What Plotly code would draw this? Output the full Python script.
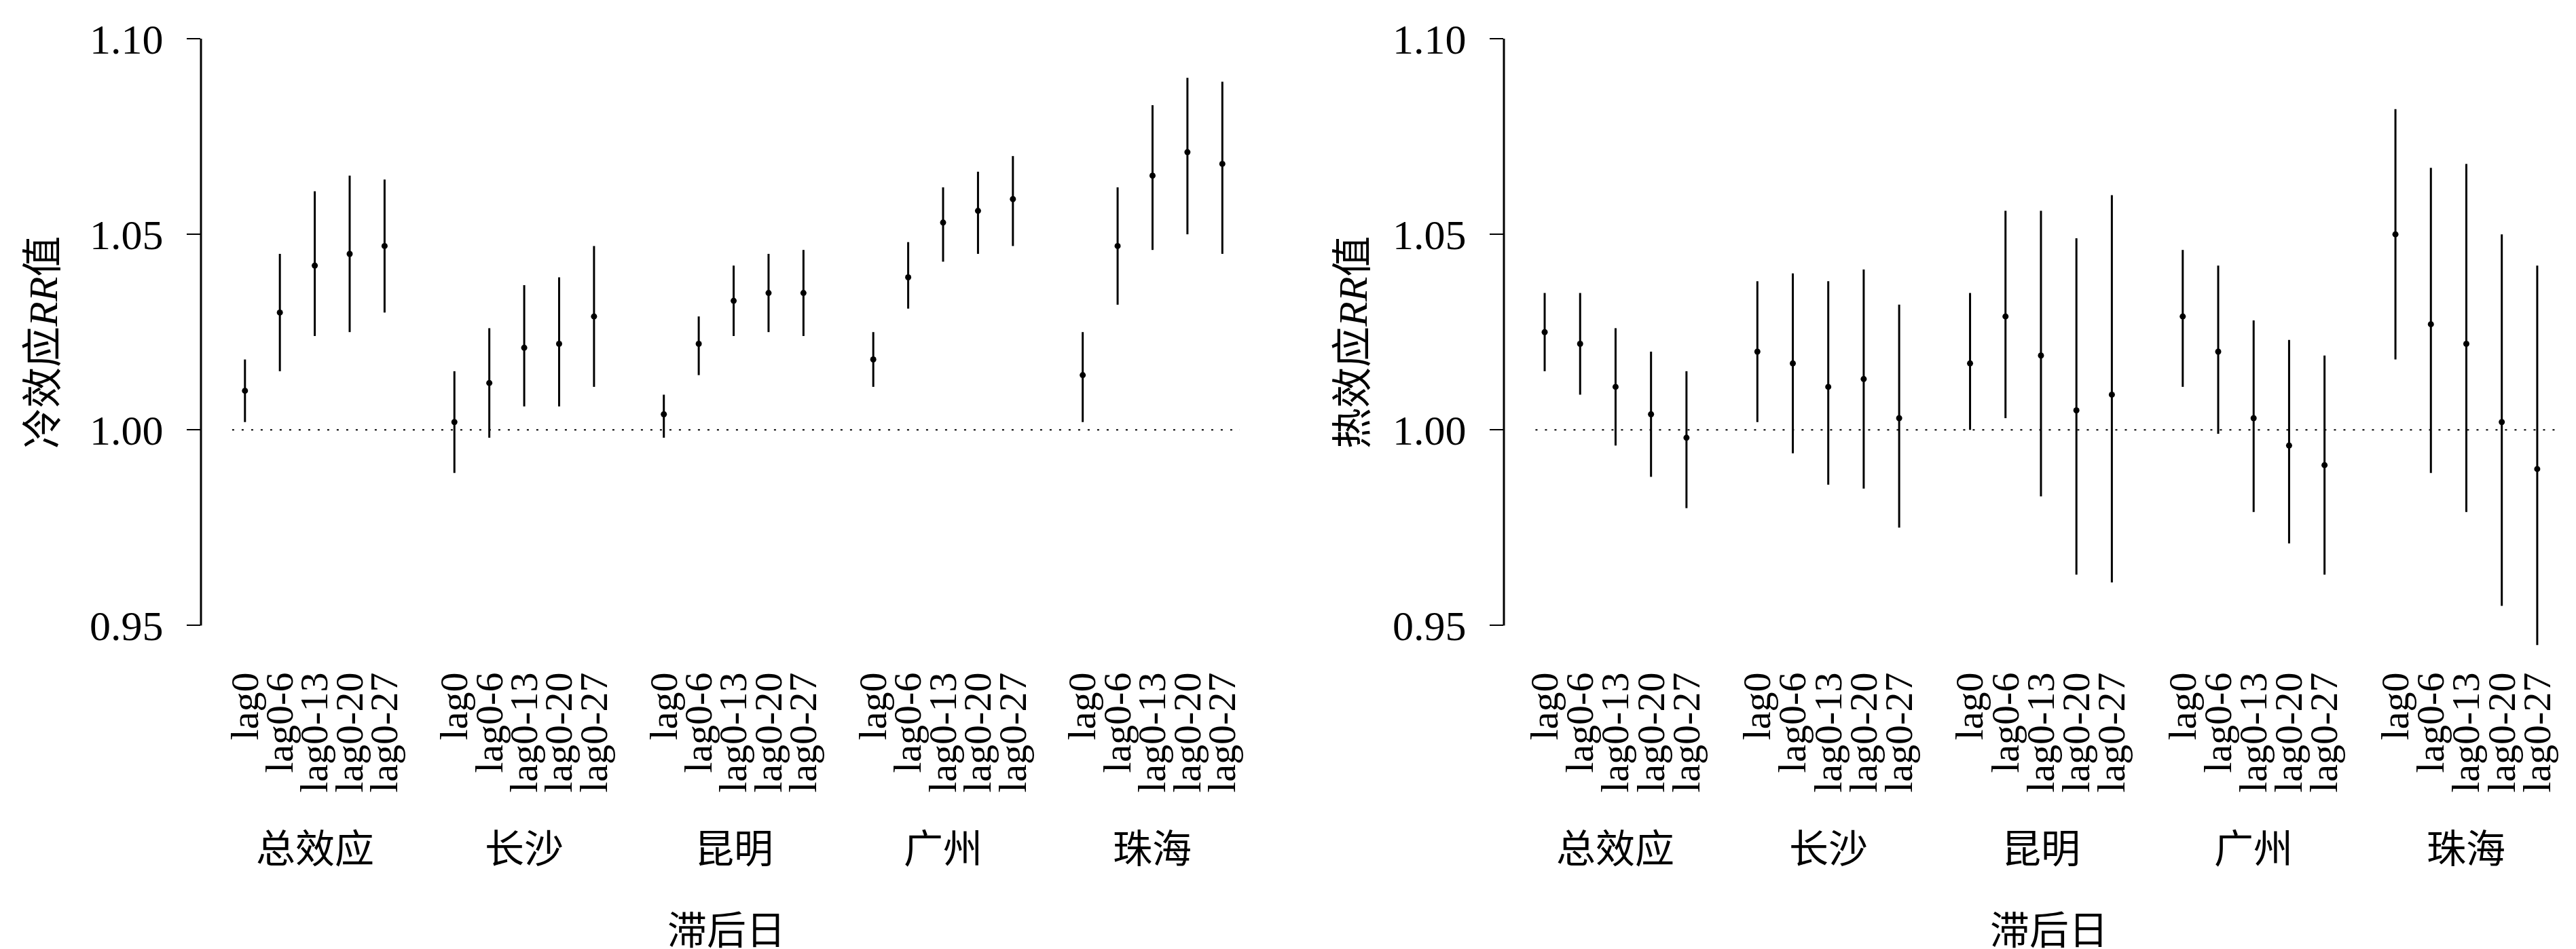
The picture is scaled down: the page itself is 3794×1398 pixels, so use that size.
import plotly.graph_objects as go

# ---------------- data ----------------
cities = ["总效应", "长沙", "昆明", "广州", "珠海"]
lags = ["lag0", "lag0-6", "lag0-13", "lag0-20", "lag0-27"]

# cold effect RR (left panel)
cold_est = [
    [1.010, 1.030, 1.042, 1.045, 1.047],
    [1.002, 1.012, 1.021, 1.022, 1.029],
    [1.004, 1.022, 1.033, 1.035, 1.035],
    [1.018, 1.039, 1.053, 1.056, 1.059],
    [1.014, 1.047, 1.065, 1.071, 1.068],
]
cold_lo = [
    [1.002, 1.015, 1.024, 1.025, 1.030],
    [0.989, 0.998, 1.006, 1.006, 1.011],
    [0.998, 1.014, 1.024, 1.025, 1.024],
    [1.011, 1.031, 1.043, 1.045, 1.047],
    [1.002, 1.032, 1.046, 1.050, 1.045],
]
cold_hi = [
    [1.018, 1.045, 1.061, 1.065, 1.064],
    [1.015, 1.026, 1.037, 1.039, 1.047],
    [1.009, 1.029, 1.042, 1.045, 1.046],
    [1.025, 1.048, 1.062, 1.066, 1.070],
    [1.025, 1.062, 1.083, 1.090, 1.089],
]

# heat effect RR (right panel)
heat_est = [
    [1.025, 1.022, 1.011, 1.004, 0.998],
    [1.020, 1.017, 1.011, 1.013, 1.003],
    [1.017, 1.029, 1.019, 1.005, 1.009],
    [1.029, 1.020, 1.003, 0.996, 0.991],
    [1.050, 1.027, 1.022, 1.002, 0.990],
]
heat_lo = [
    [1.015, 1.009, 0.996, 0.988, 0.980],
    [1.002, 0.994, 0.986, 0.985, 0.975],
    [1.000, 1.003, 0.983, 0.963, 0.961],
    [1.011, 0.999, 0.979, 0.971, 0.963],
    [1.018, 0.989, 0.979, 0.955, 0.945],
]
heat_hi = [
    [1.035, 1.035, 1.026, 1.020, 1.015],
    [1.038, 1.040, 1.038, 1.041, 1.032],
    [1.035, 1.056, 1.056, 1.049, 1.060],
    [1.046, 1.042, 1.028, 1.023, 1.019],
    [1.082, 1.067, 1.068, 1.050, 1.042],
]

y_ticks = [0.95, 1.00, 1.05, 1.10]
y_title_left = "冷效应<i>RR</i>值"
y_title_right = "热效应<i>RR</i>值"
x_title = "滞后日"

# ---------------- build ----------------
SERIF = "Liberation Serif, Times New Roman, Noto Sans CJK SC, serif"
GAP = 6  # slot count per city group (5 lags + 1 gap)

xpos, xtext = [], []
for g in range(len(cities)):
    for j, lg in enumerate(lags):
        xpos.append(g * GAP + j)
        xtext.append(lg)


def flat(a):
    return [v for row in a for v in row]


def make_trace(est, lo, hi, xa, ya):
    e = flat(est)
    l = flat(lo)
    h = flat(hi)
    return go.Scatter(
        x=xpos, y=e, mode="markers",
        marker=dict(color="black", size=9, symbol="circle"),
        error_y=dict(type="data", symmetric=False,
                     array=[hh - ee for hh, ee in zip(h, e)],
                     arrayminus=[ee - ll for ee, ll in zip(e, l)],
                     color="black", thickness=3, width=0),
        xaxis=xa, yaxis=ya, showlegend=False, hoverinfo="skip",
    )


fig = go.Figure()
fig.add_trace(make_trace(cold_est, cold_lo, cold_hi, "x", "y"))
fig.add_trace(make_trace(heat_est, heat_lo, heat_hi, "x2", "y2"))

W, H = 3794, 1398
TOP, BOT = 49, 450

xcommon = dict(
    tickmode="array", tickvals=xpos, ticktext=xtext, tickangle=-90,
    tickfont=dict(family=SERIF, size=58, color="black"),
    ticks="", showline=False, showgrid=False, zeroline=False,
    automargin=False, ticklabelstandoff=22,
)
ycommon = dict(
    range=[0.944, 1.10], tickmode="array", tickvals=y_ticks,
    ticktext=[f"{v:.2f}" for v in y_ticks],
    tickfont=dict(family=SERIF, size=62, color="black"),
    ticks="outside", ticklen=20, tickwidth=2, tickcolor="black",
    showline=False, showgrid=False, zeroline=False, automargin=False,
    ticklabelstandoff=22,
)

fig.update_layout(
    width=W, height=H,
    margin=dict(l=0, r=0, t=TOP, b=BOT),
    paper_bgcolor="white", plot_bgcolor="white",
    xaxis=dict(domain=[288 / W, 1818 / W], range=[-1.26, 28.5], anchor="y", **xcommon),
    yaxis=dict(domain=[0, 1], anchor="x", **ycommon),
    xaxis2=dict(domain=[2207 / W, 3755 / W], range=[-1.15, 28.5], anchor="y2", **xcommon),
    yaxis2=dict(domain=[0, 1], anchor="x2", **ycommon),
)

shapes = []
for xr, yr in (("x", "y"), ("x2", "y2")):
    # y axis line only from 0.95 to 1.10
    shapes.append(dict(type="line", xref=f"{xr} domain", yref=yr,
                       x0=0, x1=0, y0=y_ticks[0], y1=y_ticks[-1],
                       line=dict(color="black", width=3)))
    # reference line RR = 1
    shapes.append(dict(type="line", xref=f"{xr} domain", yref=yr,
                       x0=0.03, x1=1.0, y0=1.0, y1=1.0,
                       line=dict(color="black", width=2, dash="3px,11px")))
fig.update_layout(shapes=shapes)

ann = []
plot_h = H - TOP - BOT
for xr, cx in (("x", 1062 / W), ("x2", 3010 / W)):
    for g, c in enumerate(cities):
        ann.append(dict(text=c, xref=xr, yref="paper", x=g * GAP + 2,
                        y=-(1243 - (H - BOT)) / plot_h, showarrow=False,
                        xanchor="center", yanchor="middle",
                        font=dict(family=SERIF, size=58, color="black")))
    ann.append(dict(text=x_title, xref="paper", yref="paper", x=cx,
                    y=-(1364 - (H - BOT)) / plot_h, showarrow=False,
                    xanchor="center", yanchor="middle",
                    font=dict(family=SERIF, size=58, color="black")))

for txt, px in ((y_title_left, 56), (y_title_right, 1985)):
    ann.append(dict(text=txt, xref="paper", yref="paper", x=px / W,
                    y=((H - BOT) - 497) / plot_h, showarrow=False,
                    textangle=-90, xanchor="center", yanchor="middle",
                    font=dict(family=SERIF, size=60, color="black")))
fig.update_layout(annotations=ann)

fig.write_html("out.html")
